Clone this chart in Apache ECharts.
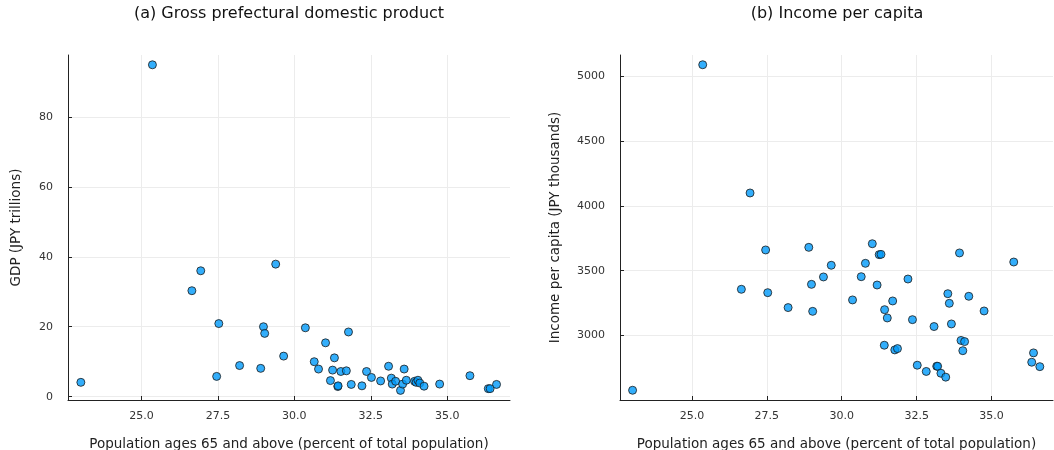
<!DOCTYPE html>
<html>
<head>
<meta charset="utf-8">
<script src="https://cdn.jsdelivr.net/npm/echarts@6/dist/echarts.min.js"></script>
<style>
html,body{margin:0;padding:0;background:#fff;}
#c{width:1054px;height:450px;}
</style>
</head>
<body>
<div id="c"></div>
<script>
// Population ages 65+ (% of total population), one per prefecture
const aged = [23.02,25.36,26.65,26.94,27.46,27.53,28.21,28.90,28.99,29.03,
  29.39,29.65,30.36,30.65,30.79,31.02,31.18,31.25,31.31,31.42,
  31.43,31.52,31.70,31.77,31.86,32.21,32.36,32.52,32.82,33.08,
  33.17,33.20,33.31,33.47,33.54,33.59,33.66,33.93,33.98,34.04,
  34.10,34.24,34.75,35.74,36.34,36.40,36.61];
// GDP (JPY trillions)
const gdp = [4.1,94.9,30.3,36.0,5.8,20.9,8.9,8.1,20.0,18.1,
  37.9,11.6,19.7,10.0,7.9,15.4,4.6,7.6,11.1,2.9,
  3.1,7.2,7.4,18.5,3.5,3.1,7.2,5.5,4.5,8.7,
  5.3,3.6,4.4,1.8,3.6,7.9,4.7,4.4,4.1,4.7,
  3.9,3.0,3.6,6.0,2.3,2.3,3.5];
// Income per capita (JPY thousands)
const income = [2579,5087,3357,4099,3660,3331,3216,3680,3395,3187,
  3452,3542,3275,3454,3557,3708,3390,3624,3626,2926,
  3200,3136,3267,2890,2900,3436,3123,2772,2724,3070,
  2764,2764,2710,2680,3323,3249,3090,3637,2963,2884,
  2954,3303,3190,3567,2795,2867,2761];
const xTicks = [25.0,27.5,30.0,32.5,35.0];
const gdpTicks = [0,20,40,60,80];
const incomeTicks = [3000,3500,4000,4500,5000];
const titles = ['(a) Gross prefectural domestic product','(b) Income per capita'];
const xName = 'Population ages 65 and above (percent of total population)';
const yNames = ['GDP (JPY trillions)','Income per capita (JPY thousands)'];

const FONT = 'DejaVu Sans';
const chart = echarts.init(document.getElementById('c'));
const gridLine = {show:true, lineStyle:{color:'#ececec', width:1}};
function xAxis(gi){
  return {
    type:'value', gridIndex:gi, min:22.6, max:37.05,
    name:xName, nameLocation:'middle', nameGap:37,
    nameTextStyle:{fontFamily:FONT, fontSize:13.5, color:'#222'},
    axisLine:{show:true, onZero:false, lineStyle:{color:'#222', width:1}},
    axisTick:{show:true, inside:true, length:4, customValues:xTicks, lineStyle:{color:'#222'}},
    axisLabel:{customValues:xTicks, formatter:v=>v.toFixed(1), margin:11,
      fontFamily:FONT, fontSize:11, color:'#333'},
    splitLine:gridLine
  };
}
function yAxis(gi, min, max, ticks, gap){
  return {
    type:'value', gridIndex:gi, min:min, max:max,
    name:yNames[gi], nameLocation:'middle', nameGap:gap,
    nameTextStyle:{fontFamily:FONT, fontSize:13.5, color:'#222'},
    axisLine:{show:true, onZero:false, lineStyle:{color:'#222', width:1}},
    axisTick:{show:true, inside:true, length:4, customValues:ticks, lineStyle:{color:'#222'}},
    axisLabel:{customValues:ticks, formatter:v=>String(v), margin:15,
      fontFamily:FONT, fontSize:11, color:'#333'},
    splitLine:gridLine
  };
}
const mk = {color:'#009AFA', borderColor:'#1a1a1a', borderWidth:1};
chart.setOption({
  animation:false,
  backgroundColor:'#fff',
  title:[
    {text:titles[0], left:289, top:6, padding:0, textAlign:'center',
      textStyle:{fontFamily:FONT, fontSize:16, fontWeight:'normal', color:'#111'}},
    {text:titles[1], left:837, top:6, padding:0, textAlign:'center',
      textStyle:{fontFamily:FONT, fontSize:16, fontWeight:'normal', color:'#111'}}
  ],
  grid:[
    {left:68, right:544, top:55, bottom:50, outerBoundsMode:'none', containLabel:false},
    {left:620, right:1, top:55, bottom:50, outerBoundsMode:'none', containLabel:false}
  ],
  xAxis:[xAxis(0), xAxis(1)],
  yAxis:[yAxis(0, -0.95, 97.7, gdpTicks, 45), yAxis(1, 2504, 5162, incomeTicks, 58)],
  series:[
    {type:'scatter', xAxisIndex:0, yAxisIndex:0, symbolSize:8, itemStyle:mk,
      data:aged.map((x,i)=>[x,gdp[i]])},
    {type:'scatter', xAxisIndex:1, yAxisIndex:1, symbolSize:8, itemStyle:mk,
      data:aged.map((x,i)=>[x,income[i]])}
  ]
});
</script>
</body>
</html>
